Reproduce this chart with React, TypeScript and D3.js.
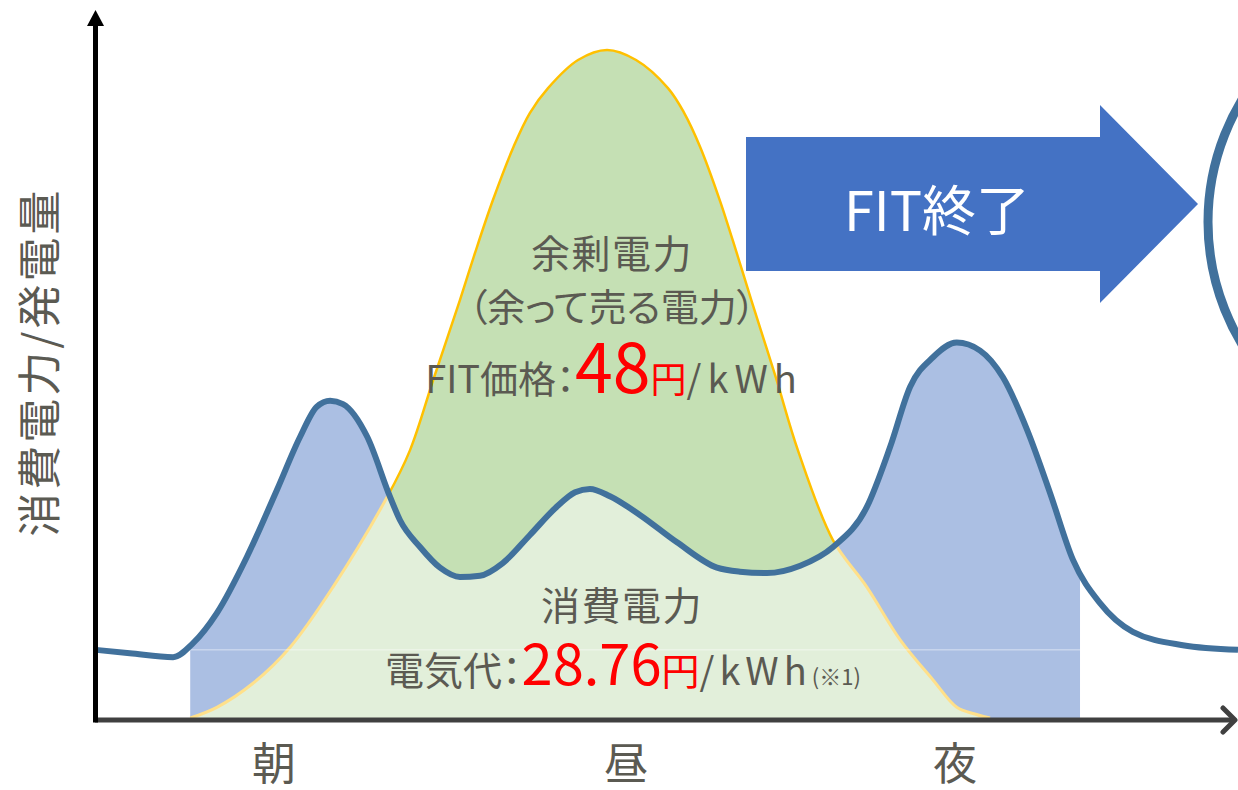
import React from "react";
import * as d3 from "d3";

// ---- data (x: hour of day, y: relative power 0-100) ----
const consumptionHours = [0, 0.71, 1.62, 2.04, 2.54, 3.17, 3.8, 4.29, 4.64, 4.92, 5.19, 5.7, 6.18, 6.39, 6.81, 7.23, 7.65, 8.07, 8.55, 9.12, 9.65, 10.07, 10.38, 10.8, 11.43, 12.21, 13.05, 13.53, 14.1, 14.8, 15.49, 16.2, 16.69, 17.11, 17.59, 18.09, 18.58, 19.06, 19.57, 20.05, 20.53, 21.1, 21.79, 22.84, 24];
const consumptionValues = [10.2, 9.7, 9.1, 11.2, 15.7, 24.1, 34.1, 42.1, 46.6, 47.5, 47.0, 42.1, 33.1, 29.6, 25.6, 22.5, 21.1, 21.3, 23.2, 27.4, 31.4, 33.8, 34.3, 33.2, 30.4, 26.3, 22.5, 21.9, 21.7, 22.8, 25.6, 31.6, 40.6, 49.6, 54.0, 56.2, 55.0, 51.0, 43.1, 33.7, 23.7, 17.2, 12.9, 10.9, 10.2];

const generationHours = [1.98, 2.54, 3.3, 4.08, 4.98, 6.12, 6.6, 7.1, 7.65, 7.96, 8.34, 8.78, 9.12, 9.5, 10.13, 10.74, 11.35, 12.02, 12.36, 12.69, 13.11, 13.47, 13.77, 14.29, 14.75, 15.49, 16.2, 16.9, 17.59, 18.09, 18.47, 18.79];
const generationValues = [0, 1.6, 5.2, 10.6, 19.6, 33.1, 40.1, 50.9, 62.6, 69.5, 77.5, 85.6, 90.6, 94.3, 98.5, 100, 98.5, 94.3, 90.6, 85.6, 77.5, 69.5, 62.6, 50.9, 40.1, 26.6, 19.6, 11.7, 5.7, 1.6, 0.6, 0];

const baseLoad = 10.2;
const consumptionFillRange = [1.98, 20.68];

const periodLabels = ["朝", "昼", "夜"];
const periodHours = [3.74, 11.14, 18.05];

const yAxisTitle = "消費電力/発電量";
const surplusTitle = "余剰電力";
const surplusSub = "（余って売る電力）";
const fitLabel = "FIT価格：";
const fitPrice = "48";
const consumptionTitle = "消費電力";
const billLabel = "電気代：";
const billPrice = "28.76";
const yenUnit = "円";
const perKwh = "/kWh";
const note = "(※1)";
const arrowText = "FIT終了";

const FONT = "'Noto Sans CJK JP', 'Noto Sans', sans-serif";
const GRAY = "#5B5A52";
const RED = "#FF0000";

type P = { h: number; v: number };

export default function App() {
  const W = 1238;
  const H = 790;
  const x = d3.scaleLinear().domain([0, 24]).range([96, 1238]);
  const y = d3.scaleLinear().domain([0, 100]).range([718, 50]);

  const cons: P[] = consumptionHours.map((h, i) => ({ h, v: consumptionValues[i] }));
  const gen: P[] = generationHours.map((h, i) => ({ h, v: generationValues[i] }));

  const cCurve = d3.curveMonotoneX;
  const gCurve = d3.curveCatmullRom.alpha(0.5);
  const consLine = d3.line<P>().x((d) => x(d.h)).y((d) => y(d.v)).curve(cCurve);
  const genLine = d3.line<P>().x((d) => x(d.h)).y((d) => y(d.v)).curve(gCurve);
  const consArea = d3.area<P>().x((d) => x(d.h)).y0(y(0)).y1((d) => y(d.v)).curve(cCurve);
  const genArea = d3.area<P>().x((d) => x(d.h)).y0(y(0)).y1((d) => y(d.v)).curve(gCurve);
  const aboveCons = d3.area<P>().x((d) => x(d.h)).y0(0).y1((d) => y(d.v)).curve(cCurve);
  const belowCons = d3.area<P>().x((d) => x(d.h)).y0(H).y1((d) => y(d.v)).curve(cCurve);

  const fx0 = x(consumptionFillRange[0]);
  const fx1 = x(consumptionFillRange[1]);

  // arrow annotation geometry
  const ax0 = 746, ax1 = 1100, axTip = 1198, acy = 204, aRect = 67, aHead = 99;
  const arrowPts = [
    [ax0, acy - aRect], [ax1, acy - aRect], [ax1, acy - aHead], [axTip, acy],
    [ax1, acy + aHead], [ax1, acy + aRect], [ax0, acy + aRect],
  ].map((p) => p.join(",")).join(" ");

  const axisY = y(0) + 2;
  const x0 = x(0);

  return (
    <svg width={W} height={H} style={{ position: "absolute", left: 0, top: 0, background: "#fff" }} fontFamily={FONT}>
      <defs>
        <clipPath id="fillRange">
          <rect x={fx0} y={0} width={fx1 - fx0} height={H} />
        </clipPath>
        <clipPath id="aboveCons">
          <path d={aboveCons(cons) || ""} />
        </clipPath>
        <clipPath id="belowCons">
          <path d={belowCons(cons) || ""} />
        </clipPath>
        <clipPath id="plotArea">
          <rect x={0} y={0} width={W} height={y(0)} />
        </clipPath>
      </defs>

      {/* consumption fill */}
      <path d={consArea(cons) || ""} fill="#ABBFE3" clipPath="url(#fillRange)" />
      <g clipPath="url(#plotArea)">
        {/* generation (self consumed) */}
        <path d={genArea(gen) || ""} fill="#E2EFDA" />
        {/* surplus */}
        <path d={genArea(gen) || ""} fill="#C5E0B4" clipPath="url(#aboveCons)" />
        <path d={genLine(gen) || ""} fill="none" stroke="#FFE08A" strokeWidth={3} clipPath="url(#belowCons)" />
        <path d={genLine(gen) || ""} fill="none" stroke="#FFC000" strokeWidth={2.5} clipPath="url(#aboveCons)" />
      </g>
      {/* faint base load edge */}
      <line x1={fx0} x2={fx1} y1={y(baseLoad)} y2={y(baseLoad)} stroke="#ffffff" strokeOpacity={0.55} strokeWidth={1} />
      {/* consumption line */}
      <path d={consLine(cons) || ""} fill="none" stroke="#41719C" strokeWidth={6} strokeLinejoin="round" />

      {/* axes */}
      <line x1={x0 - 1} x2={1234} y1={axisY} y2={axisY} stroke="#404040" strokeWidth={5} />
      <polyline points={`1223,708 1235,${axisY} 1223,732`} fill="none" stroke="#404040" strokeWidth={5} strokeLinecap="round" strokeLinejoin="round" />
      <line x1={95.5} x2={95.5} y1={axisY + 2.5} y2={24} stroke="#000" strokeWidth={5} />
      <polygon points="95.5,10 87,26 104,26" fill="#000" />

      {/* axis titles */}
      <text transform="translate(37,362) rotate(-90)" textAnchor="middle" dominantBaseline="central" fontSize={44} letterSpacing={3} fill={GRAY}>
        {yAxisTitle}
      </text>
      {periodLabels.map((t, i) => (
        <text key={t} x={x(periodHours[i])} y={780} textAnchor="middle" fontSize={44} fill={GRAY}>
          {t}
        </text>
      ))}

      {/* surplus labels */}
      <text x={612} y={268} textAnchor="middle" fontSize={39} letterSpacing={1.5} fill={GRAY}>{surplusTitle}</text>
      <text x={612} y={321} textAnchor="middle" fontSize={38} fill={GRAY} style={{ fontFeatureSettings: '"palt"' }}>{surplusSub}</text>
      <text x={614} y={393} textAnchor="middle" fill={GRAY} style={{ fontFeatureSettings: '"palt"' }}>
        <tspan fontSize={38}>{fitLabel}</tspan>
        <tspan fontSize={68} fill={RED}>{fitPrice}</tspan>
        <tspan fontSize={36} fill={RED}>{yenUnit}</tspan>
        <tspan fontSize={38} letterSpacing={6}>{perKwh}</tspan>
      </text>

      {/* consumption labels */}
      <text x={622} y={620} textAnchor="middle" fontSize={39} letterSpacing={1.5} fill={GRAY}>{consumptionTitle}</text>
      <text x={623} y={685} textAnchor="middle" fill={GRAY} style={{ fontFeatureSettings: '"palt"' }}>
        <tspan fontSize={39}>{billLabel}</tspan>
        <tspan fontSize={56} fill={RED}>{billPrice}</tspan>
        <tspan fontSize={38} fill={RED}>{yenUnit}</tspan>
        <tspan fontSize={38} letterSpacing={5}>{perKwh}</tspan>
        <tspan fontSize={22}>{note}</tspan>
      </text>

      {/* FIT end arrow */}
      <polygon points={arrowPts} fill="#4472C4" />
      <text x={937} y={231} textAnchor="middle" fontSize={54} fill="#fff">{arrowText}</text>

      {/* partial circle at right edge */}
      <circle cx={1445} cy={222} r={237} fill="none" stroke="#41719C" strokeWidth={9} />
    </svg>
  );
}
